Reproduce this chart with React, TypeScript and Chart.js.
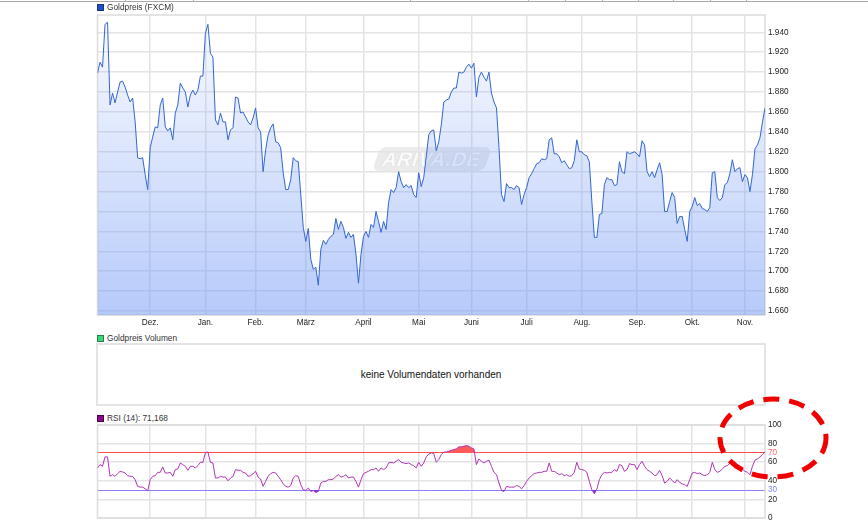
import React, { useEffect, useRef } from "react";
import { Chart, registerables } from "chart.js";

Chart.register(...registerables);

// ---------- data ----------
const MONTH_LABELS = ["Dez.", "Jan.", "Feb.", "März", "April", "Mai", "Juni", "Juli", "Aug.", "Sep.", "Okt.", "Nov."];
// trading days per month, Nov 2020 ... Nov 2021
const DAYS_PER_MONTH = [21, 22, 20, 20, 23, 22, 21, 22, 22, 22, 22, 21, 9];

const PRICE = [
  // Nov 2020
  1899, 1910, 1905, 1948, 1950, 1867, 1879, 1869, 1880, 1890, 1891, 1885, 1877, 1870, 1874, 1850, 1814, 1813, 1814, 1797, 1782,
  // Dez
  1824, 1835, 1845, 1844, 1867, 1874, 1845, 1841, 1844, 1832, 1859, 1867, 1889, 1884, 1880, 1865, 1877, 1882, 1877, 1882, 1896, 1896,
  // Jan
  1939, 1948, 1919, 1915, 1852, 1847, 1859, 1850, 1850, 1832, 1842, 1844, 1875, 1874, 1859, 1860, 1855, 1850, 1847, 1854,
  // Feb
  1864, 1844, 1840, 1800, 1822, 1837, 1844, 1848, 1830, 1829, 1824, 1799, 1782, 1782, 1792, 1814, 1811, 1810, 1777, 1744,
  // März
  1730, 1743, 1712, 1702, 1704, 1686, 1722, 1731, 1727, 1732, 1735, 1737, 1753, 1742, 1750, 1744, 1733, 1739, 1734, 1737, 1717, 1688, 1717,
  // April
  1735, 1740, 1734, 1747, 1744, 1760, 1750, 1739, 1750, 1742, 1769, 1782, 1779, 1784, 1800, 1790, 1784, 1787, 1784, 1786, 1777, 1774,
  // Mai
  1799, 1785, 1794, 1815, 1837, 1841, 1842, 1821, 1830, 1847, 1870, 1872, 1873, 1880, 1884, 1884, 1900, 1899, 1900, 1905, 1908,
  // Juni
  1904, 1909, 1875, 1895, 1900, 1895, 1891, 1900, 1879, 1870, 1864, 1824, 1777, 1770, 1788, 1784, 1784, 1782, 1786, 1784, 1767, 1777,
  // Juli
  1784, 1794, 1798, 1803, 1808, 1809, 1813, 1812, 1813, 1832, 1834, 1818, 1818, 1815, 1809, 1811, 1807, 1803, 1804, 1811, 1832, 1820,
  // Aug
  1820, 1817, 1816, 1810, 1770, 1734, 1734, 1757, 1758, 1787, 1794, 1792, 1792, 1786, 1787, 1810, 1800, 1798, 1820, 1818, 1819, 1820,
  // Sep
  1818, 1815, 1831, 1827, 1800, 1795, 1800, 1794, 1802, 1809, 1797, 1760, 1760, 1770, 1779, 1774, 1748, 1755, 1755, 1742, 1730, 1760,
  // Okt
  1765, 1774, 1766, 1768, 1763, 1762, 1760, 1764, 1799, 1800, 1774, 1771, 1774, 1787, 1789, 1798, 1812, 1800, 1803, 1804, 1790,
  // Nov 2021
  1797, 1794, 1780, 1797, 1823, 1827, 1834, 1850, 1864,
];

const RSI = [
  53.8, 57.4, 55.6, 65.7, 65.7, 44.8, 46.6, 44.8, 47.7, 50.2,
  49.5, 48.4, 45.5, 44.8, 44.8, 41.2, 34, 33.2, 33.2, 31.4,
  29.3, 41.2, 44.8, 45.5, 49.1, 49.1, 54.9, 48.4, 48.4, 49.1,
  44.8, 52, 52.7, 59.2, 57.4, 55.6, 51.3, 55.6, 55.6, 53.8,
  56.3, 59.9, 59.9, 70, 71, 59.9, 59.2, 43, 43, 44.8,
  44, 44, 40, 43, 44.8, 52, 51.3, 51.3, 49.1, 48.4,
  44.8, 45.5, 47.7, 50.2, 44, 41.9, 34, 39.4, 44.8, 47.7,
  49.1, 48.4, 44.8, 41.2, 36.8, 34, 33.2, 34.7, 43, 45.5,
  44.8, 35.8, 30.4, 29.6, 32.2, 28.6, 29.6, 27.5, 28.6, 37.6,
  39.4, 39.4, 41.2, 41.2, 41.9, 44.8, 46.6, 44, 44.8, 46.6,
  43, 44, 44, 39.4, 33.2, 41.2, 47.7, 49.1, 50.2, 52,
  52, 53.8, 50.2, 53.8, 52, 53.8, 59.2, 59.9, 59.2, 61,
  62.8, 59.9, 59.2, 58.5, 59.2, 57.4, 56.3, 53.8, 59.9, 55.6,
  59.2, 65.7, 68.9,
  70, 69.3, 59.9, 62.8, 68.2, 71, 71, 71.8, 72.9, 73.6,
  74.3, 76.5, 76.5, 77.2, 77.9, 77.2, 75.4, 74.3, 57.4, 63.5,
  61, 59.2, 61, 62.1, 55.6, 49.1, 46.6, 37.6, 29.6, 28.6,
  34, 33.2, 33.2, 33.2, 35, 34, 31.4, 34.7, 39.4, 43,
  45.5, 47.7, 48.4, 49.1, 49.1, 50.2, 50.2, 59.2, 50.2, 50.2,
  48.4, 46.6, 47.7, 45.5, 46.6, 44.8, 45.5, 49.1, 59.9, 52.7,
  52, 51.3, 49.1, 39.4, 30.4, 26, 31.1, 41.2, 46.6, 49.1,
  48.4, 49.1, 49.1, 52, 50.2, 57.4, 56.3, 50.2, 52, 58.5,
  57.4, 57.4, 52, 57.4, 61, 55.6, 52, 50.2, 48.4, 45.5,
  46.6, 51.3, 45.5, 37.6, 39.4, 43, 40.5, 37.6, 41.2, 38.3,
  36.8, 35.8, 34, 41.2, 48.4, 49.1, 47.7, 48.4, 46.6, 45.5,
  46.6, 49.1, 59.9, 52, 49.1, 50.2, 52.7, 55.6, 56.3, 59.2,
  62.1, 55.6, 57.4, 53.8, 52.7, 50.2, 49.1, 46.6, 55.6, 62.1,
  63.5, 65.7, 68.2, 71.168,
];

const PRICE_TICKS = [1660, 1680, 1700, 1720, 1740, 1760, 1780, 1800, 1820, 1840, 1860, 1880, 1900, 1920, 1940];
const PRICE_MIN = 1656;
const PRICE_MAX = 1957.4;
const RSI_TICKS = [0, 20, 30, 40, 60, 70, 80, 100];
const RSI_UPPER = 70;
const RSI_LOWER = 30;
const RSI_LAST_LABEL = "71,168";

const PRICE_LEGEND = "Goldpreis (FXCM)";
const VOLUME_LEGEND = "Goldpreis Volumen";
const VOLUME_EMPTY = "keine Volumendaten vorhanden";
const RSI_LEGEND = "RSI (14): " + RSI_LAST_LABEL;

// ---------- helpers ----------
const MONTH_STARTS: number[] = (() => {
  const out: number[] = [];
  let acc = 0;
  for (let k = 0; k < MONTH_LABELS.length; k++) {
    acc += DAYS_PER_MONTH[k];
    out.push(acc);
  }
  return out;
})();
const LAST_INDEX = PRICE.length - 1;

const FONT = '"Liberation Sans", Arial, sans-serif';
const GRID = "#e4e4e4";
const TEXT = "#222";

function fmtThousand(v: number) {
  const s = String(Math.round(v));
  if (s.length <= 3) return s;
  return s.slice(0, s.length - 3) + "." + s.slice(s.length - 3);
}

const framePlugin = {
  id: "frame",
  beforeDatasetsDraw(chart: any) {
    const a = chart.chartArea;
    const c = chart.ctx;
    c.save();
    c.strokeStyle = "#dcdcdc";
    c.lineWidth = 1.5;
    c.strokeRect(a.left, a.top, a.right - a.left, a.bottom - a.top);
    c.restore();
  },
};

function monthTicks(scale: any) {
  scale.ticks = MONTH_STARTS.map((v) => ({ value: v }));
}

function makePriceConfig(): any {
  return {
    type: "line",
    data: {
      datasets: [
        {
          data: PRICE.map((v, i) => ({ x: i, y: v })),
          borderColor: "#3366d0",
          borderWidth: 1,
          pointRadius: 0,
          tension: 0,
          fill: "start",
          backgroundColor: (ctx: any) => {
            const chart = ctx.chart;
            const a = chart.chartArea;
            if (!a) return "rgba(110,150,245,0.3)";
            const g = chart.ctx.createLinearGradient(0, a.top, 0, a.bottom);
            g.addColorStop(0, "rgba(110,150,245,0.03)");
            g.addColorStop(1, "rgba(110,150,245,0.5)");
            return g;
          },
        },
      ],
    },
    options: {
      responsive: false,
      animation: false,
      events: [],
      layout: { autoPadding: false, padding: { left: 97.5, top: 15, right: 0, bottom: 0 } },
      plugins: { legend: { display: false }, tooltip: { enabled: false } },
      scales: {
        x: {
          type: "linear",
          min: 0,
          max: LAST_INDEX,
          bounds: "data",
          afterBuildTicks: monthTicks,
          afterFit: (s: any) => { s.height = 17; },
          grid: { color: GRID, lineWidth: 1.5, drawTicks: false },
          border: { display: false },
          ticks: {
            autoSkip: false,
            maxRotation: 0,
            padding: 3,
            color: TEXT,
            font: { family: FONT, size: 8.2 },
            callback: (_v: any, i: number) => MONTH_LABELS[i],
          },
        },
        y: {
          type: "linear",
          position: "right",
          min: PRICE_MIN,
          max: PRICE_MAX,
          bounds: "data",
          afterBuildTicks: (s: any) => { s.ticks = PRICE_TICKS.map((v) => ({ value: v })); },
          afterFit: (s: any) => { s.width = 103; },
          grid: { color: GRID, lineWidth: 1.5, drawTicks: false },
          border: { display: false },
          ticks: {
            autoSkip: false,
            padding: 3,
            color: TEXT,
            font: { family: FONT, size: 8.2 },
            callback: (v: any) => fmtThousand(Number(v)),
          },
        },
      },
    },
    plugins: [framePlugin],
  };
}

function makeRsiConfig(): any {
  const pts = RSI.map((v, i) => ({ x: i, y: v }));
  return {
    type: "line",
    data: {
      datasets: [
        {
          data: pts,
          borderColor: "#b035b5",
          borderWidth: 1,
          pointRadius: 0,
          tension: 0,
          fill: { target: { value: RSI_UPPER }, above: "#ff5a5a", below: "rgba(0,0,0,0)" },
        },
        {
          data: pts,
          borderColor: "rgba(0,0,0,0)",
          borderWidth: 0,
          pointRadius: 0,
          tension: 0,
          fill: { target: { value: RSI_LOWER }, above: "rgba(0,0,0,0)", below: "#6a3cf0" },
        },
      ],
    },
    options: {
      responsive: false,
      animation: false,
      events: [],
      layout: { autoPadding: false, padding: { left: 97.5, top: 15, right: 0, bottom: 8 } },
      plugins: { legend: { display: false }, tooltip: { enabled: false } },
      scales: {
        x: {
          type: "linear",
          min: 0,
          max: LAST_INDEX,
          bounds: "data",
          afterBuildTicks: monthTicks,
          afterFit: (s: any) => { s.height = 0; },
          grid: { color: GRID, lineWidth: 1.5, drawTicks: false },
          border: { display: false },
          ticks: { display: false },
        },
        y: {
          type: "linear",
          position: "right",
          min: 0,
          max: 100,
          bounds: "data",
          afterBuildTicks: (s: any) => { s.ticks = RSI_TICKS.map((v) => ({ value: v })); },
          afterFit: (s: any) => { s.width = 103; },
          grid: {
            drawTicks: false,
            color: (ctx: any) => {
              const v = ctx.tick && ctx.tick.value;
              if (v === RSI_UPPER) return "#ff4d4d";
              if (v === RSI_LOWER) return "#8a80ff";
              return GRID;
            },
            lineWidth: (ctx: any) => {
              const v = ctx.tick && ctx.tick.value;
              return v === RSI_UPPER || v === RSI_LOWER ? 1 : 1.5;
            },
          },
          border: { display: false },
          ticks: {
            autoSkip: false,
            padding: 3,
            font: { family: FONT, size: 8.2 },
            color: (ctx: any) => {
              const v = ctx.tick && ctx.tick.value;
              if (v === RSI_UPPER) return "#ff6b6b";
              if (v === RSI_LOWER) return "#8080ff";
              return TEXT;
            },
          },
        },
      },
    },
    plugins: [framePlugin],
  };
}

function ChartCanvas(props: { make: () => any; top: number; height: number }) {
  const ref = useRef<HTMLCanvasElement | null>(null);
  useEffect(() => {
    if (!ref.current) return;
    const chart = new Chart(ref.current, props.make());
    return () => chart.destroy();
  }, []);
  return (
    <canvas
      ref={ref}
      width={868}
      height={props.height}
      style={{ position: "absolute", left: 0, top: props.top, width: 868, height: props.height }}
    />
  );
}

function Legend(props: { top: number; color: string; border: string; text: string }) {
  return (
    <div style={{ position: "absolute", left: 97, top: props.top, height: 8, display: "flex", alignItems: "center" }}>
      <div
        style={{
          width: 5,
          height: 5,
          background: props.color,
          border: "1px solid " + props.border,
          marginRight: 3,
        }}
      />
      <span style={{ fontSize: 8.3, color: "#333", lineHeight: "8px", whiteSpace: "nowrap" }}>{props.text}</span>
    </div>
  );
}

const TOP_MARKS = [125, 193, 410, 528, 565, 602, 638, 673, 710, 746];

export default function App() {
  return (
    <div
      style={{
        position: "absolute",
        left: 0,
        top: 0,
        width: 868,
        height: 526,
        overflow: "hidden",
        background: "#fff",
        fontFamily: FONT,
      }}
    >
      {/* top bar line */}
      <div style={{ position: "absolute", left: 0, top: 1, width: 868, height: 1, background: "#a8a8a8" }} />
      {TOP_MARKS.map((x) => (
        <div key={x} style={{ position: "absolute", left: x, top: 0, width: 1, height: 2, background: "#b0b0b0" }} />
      ))}

      {/* watermark */}
      <div
        style={{
          position: "absolute",
          left: 376,
          top: 147,
          width: 112,
          height: 24,
          background: "rgba(205,205,205,0.4)",
          borderRadius: 7,
          transform: "skewX(-18deg)",
          color: "rgba(255,255,255,0.95)",
          fontWeight: "bold",
          fontSize: 20,
          lineHeight: "24px",
          textAlign: "center",
          letterSpacing: 0.5,
          textShadow: "0 0 1px rgba(170,170,170,0.6)",
        }}
      >
        ARIVA.DE
      </div>

      <ChartCanvas make={makePriceConfig} top={0} height={332} />

      <Legend top={3} color="#1f4fc6" border="#16337e" text={PRICE_LEGEND} />

      <Legend top={334} color="#3dd47a" border="#23804a" text={VOLUME_LEGEND} />
      <div
        style={{
          position: "absolute",
          left: 96,
          top: 343,
          width: 666,
          height: 59,
          border: "2px solid #e4e4e4",
          display: "flex",
          alignItems: "center",
          justifyContent: "center",
          fontSize: 10,
          color: "#111",
        }}
      >
        {VOLUME_EMPTY}
      </div>

      <Legend top={414} color="#8b0a8b" border="#4a004a" text={RSI_LEGEND} />
      <ChartCanvas make={makeRsiConfig} top={410} height={116} />

      {/* red dashed ellipse annotation */}
      <svg width={868} height={526} style={{ position: "absolute", left: 0, top: 0, pointerEvents: "none" }}>
        <ellipse
          cx={773}
          cy={438}
          rx={53}
          ry={39}
          fill="none"
          stroke="#f00000"
          strokeWidth={5}
          strokeDasharray="16 10"
        />
      </svg>
    </div>
  );
}
